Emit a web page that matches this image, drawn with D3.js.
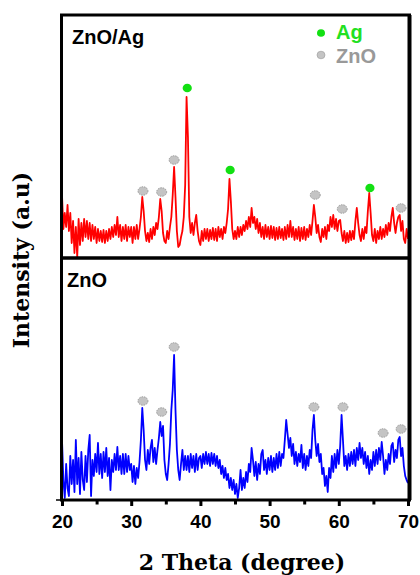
<!DOCTYPE html>
<html><head><meta charset="utf-8">
<script src="https://cdn.jsdelivr.net/npm/d3@7"></script>
<style>html,body{margin:0;padding:0;background:#fff}svg{display:block}</style>
</head><body>
<svg id="c" width="420" height="575"></svg>
<script>
// XRD patterns sampled from 20 to 70 deg, step 0.2 deg
const angleStart = 20, angleStep = 0.2;
const znoAg = [
62,28,44,30,52, 26,44,14,36,4, 30,0,38,12,34, 16,38,20,36,18, 34,16,32,18,30,
14,28,16,26,15, 27,14,26,16,28, 18,30,20,32,22, 40,20,32,16,30, 18,32,16,30,20,
30,14,30,18,32, 18,28,40,60,46, 26,16,24,15,28, 18,30,22,34,28, 40,58,46,24,16,
14,26,18,30,40, 62,90,60,26,10, 12,20,26,40,72, 160,120,40,24,34, 22,34,42,26,16,
12,26,16,28,18, 28,16,27,18,29, 17,28,16,30,20, 28,18,30,24,34, 48,78,56,28,18,
26,18,30,20,30, 22,32,26,36,28, 40,30,49,34,40, 28,38,24,34,20, 30,18,32,20,30,
18,31,19,30,17, 29,18,30,19,28, 17,30,18,32,20, 36,20,30,17,28, 18,30,16,29,18,
30,17,28,20,32, 22,36,52,40,24, 32,20,15,28,20, 30,18,32,26,40, 30,42,28,38,26,
36,37,24,16,26, 14,24,15,26,17, 26,18,36,49,34, 22,16,28,18,30, 24,46,64,44,22,
16,28,14,26,18, 30,18,28,20,32, 22,34,26,40,49, 34,24,34,40,42, 26,36,18,14,28,
18];
const zno = [
60,20,2,36,12, 4,44,16,40,8, 60,16,42,6,48, 20,10,44,18,50, 65,4,40,24,46,
28,57,26,46,22, 48,28,52,24,42, 10,40,28,46,30, 53,30,44,26,46, 26,46,28,44,30,
36,18,34,16,32, 22,38,60,92,70, 40,30,50,36,52, 60,38,52,36,50, 62,78,64,74,40,
26,20,36,56,90, 110,145,90,50,30, 20,36,50,30,44, 30,44,28,46,32, 44,28,46,30,42,
44,32,46,36,48, 36,46,34,47,36, 46,34,44,32,40, 26,34,22,32,20, 26,12,22,10,20,
6,16,2,12,30, 10,22,12,28,18, 36,28,52,40,24, 38,20,36,26,46, 50,30,40,26,42,
30,44,28,42,30, 46,32,48,34,46, 42,60,80,66,52, 62,44,56,36,48, 34,46,38,55,32,
46,30,44,34,50, 42,70,85,60,44, 56,38,46,26,32, 14,24,8,32,22, 44,28,46,32,50,
36,54,85,60,34, 44,30,46,34,48, 36,50,34,52,40, 57,42,52,36,48, 32,44,26,40,30,
48,34,50,36,52, 40,58,44,26,40, 30,46,36,54,57, 38,50,42,60,63, 44,52,34,24,20,
17];
// peak markers [2theta, intensity]
const agMarksTop = [[38.1,169],[44.3,87],[64.5,69]];
const znoMarksTop = [[31.7,66],[34.4,65],[36.2,97],[56.6,62],[60.5,48],[69.0,49]];
const znoMarksBottom = [[31.7,99],[34.4,88],[36.2,153],[56.4,93],[60.6,93],[66.4,67],[69.0,71]];
const xTicks = [20,30,40,50,60,70];
const xMinorTicks = [25,35,45,55,65];
const panelLabels = ["ZnO/Ag","ZnO"];
const legendLabels = ["Ag","ZnO"];

const svg = d3.select("#c");
const L = 61.5, R = 409.5, T = 15, M = 258, B = 500;
const x = d3.scaleLinear().domain([20,70]).range([62,408]);
const yTop = d3.scaleLinear().domain([0,240]).range([257,17]);
const yBot = d3.scaleLinear().domain([0,240]).range([500,260]);

const defs = svg.append("defs");
defs.append("clipPath").attr("id","cpT").append("rect").attr("x",L).attr("y",T).attr("width",R-L).attr("height",M-T);
defs.append("clipPath").attr("id","cpB").append("rect").attr("x",L).attr("y",M).attr("width",R-L).attr("height",B-M);

const ang = i => angleStart + i*angleStep;
const lineT = d3.line().x((d,i)=>x(ang(i))).y(d=>yTop(d));
const lineB = d3.line().x((d,i)=>x(ang(i))).y(d=>yBot(d));

svg.append("path").attr("d",lineT(znoAg)).attr("fill","none").attr("stroke","#ff0000")
  .attr("stroke-width",1.8).attr("stroke-linejoin","round").attr("clip-path","url(#cpT)");
svg.append("path").attr("d",lineB(zno)).attr("fill","none").attr("stroke","#0000ff")
  .attr("stroke-width",1.8).attr("stroke-linejoin","round").attr("clip-path","url(#cpB)");

function greyDots(data, y){
  svg.append("g").selectAll("ellipse").data(data).join("ellipse")
    .attr("cx",d=>x(d[0])).attr("cy",d=>y(d[1])).attr("rx",5).attr("ry",4.3)
    .attr("fill","#c4c4c4").attr("stroke","#8a8a8a").attr("stroke-width",0.8).attr("stroke-dasharray","1.5,1");
}
function greenDots(data, y){
  svg.append("g").selectAll("ellipse").data(data).join("ellipse")
    .attr("cx",d=>x(d[0])).attr("cy",d=>y(d[1])).attr("rx",4.6).attr("ry",4.3)
    .attr("fill","#12e012");
}
greenDots(agMarksTop, yTop);
greyDots(znoMarksTop, yTop);
greyDots(znoMarksBottom, yBot);

// frame
const fr = svg.append("g").attr("fill","none").attr("stroke","#000");
fr.append("rect").attr("x",L).attr("y",T).attr("width",R-L).attr("height",B-T).attr("stroke-width",3);
fr.append("line").attr("x1",L).attr("x2",R).attr("y1",M).attr("y2",M).attr("stroke-width",3.5);
fr.append("line").attr("x1",R).attr("x2",R).attr("y1",T).attr("y2",B).attr("stroke-width",4);

// x axis
const ax = svg.append("g").attr("transform",`translate(0,${B})`)
  .call(d3.axisBottom(x).tickValues(xTicks).tickSize(6).tickPadding(9).tickFormat(d3.format("d")));
ax.select(".domain").remove();
ax.selectAll(".tick line").attr("stroke","#000").attr("stroke-width",3);
ax.selectAll(".tick text").attr("font-family","Liberation Sans, Arial, sans-serif")
  .attr("font-weight","bold").attr("font-size",19).attr("fill","#000");
const axm = svg.append("g").attr("transform",`translate(0,${B})`)
  .call(d3.axisBottom(x).tickValues(xMinorTicks).tickSize(4.5).tickFormat(""));
axm.select(".domain").remove();
axm.selectAll(".tick line").attr("stroke","#000").attr("stroke-width",3);
svg.append("line").attr("x1",56).attr("x2",L).attr("y1",B).attr("y2",B).attr("stroke","#000").attr("stroke-width",1.5);

// titles
svg.append("text").attr("x",242).attr("y",570).attr("text-anchor","middle")
  .attr("font-family","DejaVu Serif, serif").attr("font-weight","bold").attr("font-size",22)
  .text("2 Theta (degree)");
svg.append("text").attr("transform","translate(29,260) rotate(-90)").attr("text-anchor","middle")
  .attr("font-family","DejaVu Serif, serif").attr("font-weight","bold").attr("font-size",22)
  .text("Intensity (a.u)");

// panel labels
const sans = "Liberation Sans, Arial, sans-serif";
svg.append("text").attr("x",72).attr("y",44).attr("font-family",sans).attr("font-weight","bold")
  .attr("font-size",20).text(panelLabels[0]);
svg.append("text").attr("x",67).attr("y",287).attr("font-family",sans).attr("font-weight","bold")
  .attr("font-size",20).text(panelLabels[1]);

// legend
svg.append("ellipse").attr("cx",321).attr("cy",33).attr("rx",4).attr("ry",3.8).attr("fill","#12e012");
svg.append("text").attr("x",336).attr("y",39).attr("font-family",sans).attr("font-weight","bold")
  .attr("font-size",20).attr("fill","#22e022").text(legendLabels[0]);
svg.append("ellipse").attr("cx",321).attr("cy",55).attr("rx",4).attr("ry",3.8).attr("fill","#c4c4c4")
  .attr("stroke","#999").attr("stroke-width",0.6);
svg.append("text").attr("x",336).attr("y",63).attr("font-family",sans).attr("font-weight","bold")
  .attr("font-size",20).attr("fill","#999").text(legendLabels[1]);
</script>
</body></html>
